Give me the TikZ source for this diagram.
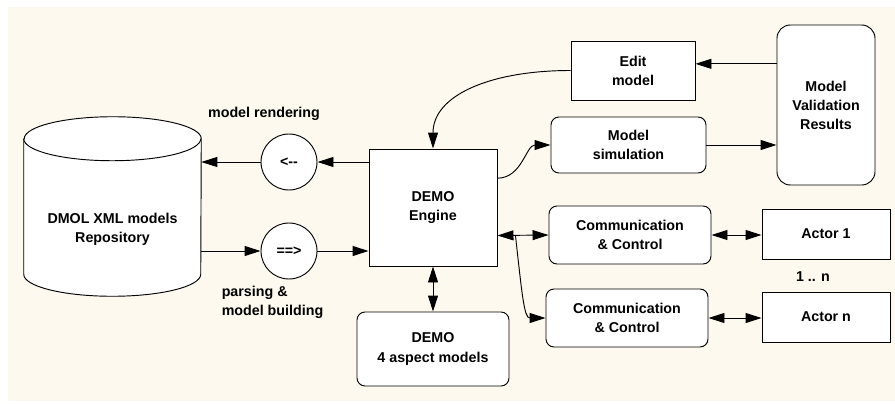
\documentclass[tikz,border=0pt]{standalone}
\usepackage{fontspec}
\setmainfont{Liberation Sans}
\usetikzlibrary{arrows.meta,positioning,calc}
\definecolor{dmolcream}{RGB}{253,249,238}

\begin{document}
\begin{tikzpicture}[x=.75pt,y=.75pt,
  font=\fontsize{10.7}{14.3}\selectfont\bfseries,
  box/.style={draw,fill=white,align=center,inner sep=2pt,line width=.7pt},
  rbox/.style={box,rounded corners=6pt},
  op/.style={draw,fill=white,circle,minimum size=42pt,inner sep=0pt,line width=.7pt},
  annot/.style={align=left,inner sep=0pt},
  flow/.style={-{Triangle[length=12pt,width=7.5pt]},line width=.7pt},
  twoway/.style={{Triangle[length=12pt,width=7.5pt]}-{Triangle[length=12pt,width=7.5pt]},line width=.7pt}]

\path[use as bounding box] (0,0) rectangle (895,-403);
\fill[dmolcream] (8,-7) rectangle (895,-401);

% repository cylinder
\node[minimum width=132.75pt,minimum height=134.25pt,inner sep=0pt] (repo) at (112.5,-206.5) {};
\draw[fill=white,line width=.7pt] ($(repo.north west)+(0,-22)$) -- ($(repo.south west)+(0,22)$)
  arc[start angle=180,end angle=360,x radius=66.375pt,y radius=16.5pt]
  -- ($(repo.north east)+(0,-22)$)
  arc[start angle=0,end angle=180,x radius=66.375pt,y radius=16.5pt] -- cycle;
\draw[line width=.7pt] ($(repo.north west)+(0,-22)$)
  arc[start angle=180,end angle=360,x radius=66.375pt,y radius=16.5pt];
\node[align=center] (repotext) at (112.5,-229.5) {DMOL XML models\\Repository};

\node[op] (render) at (289,-162) {<-\kern0pt-};
\node[op] (parse) at (289,-251) {==>};
\node[annot] (rendertext) at (264,-114) {model rendering};
\node[annot] (parsetext) at (272.5,-302.5) {parsing \&\\model building};

\node[box,minimum width=96pt,minimum height=87.75pt] (engine) at (433,-207.5) {DEMO\\Engine};
\node[rbox,minimum width=114pt,minimum height=55.5pt] (aspect) at (433,-349) {DEMO\\4 aspect models};
\node[box,minimum width=93pt,minimum height=44.25pt] (edit) at (633,-70.5) {Edit\\model};
\node[rbox,minimum width=116.25pt,minimum height=42pt] (sim) at (628.5,-145) {Model\\simulation};
\node[box,rounded corners=10pt,minimum width=73.5pt,minimum height=120pt] (valid) at (826,-105) {Model\\Validation\\Results};
\node[rbox,minimum width=121.5pt,minimum height=43.5pt] (comm1) at (630,-235) {Communication\\\& Control};
\node[rbox,minimum width=121.5pt,minimum height=43.5pt] (comm2) at (627,-318) {Communication\\\& Control};
\node[box,minimum width=96pt,minimum height=37.5pt] (actor1) at (826,-234) {Actor 1};
\node[box,minimum width=96pt,minimum height=37.5pt] (actorn) at (826,-317) {Actor n};
\node[annot] (multi) at (813,-277) {1 .. n};

% connectors
\draw[flow] (render.east -| engine.west) -- (render.east);
\draw[flow] (render.west) -- (render.west -| repo.east);
\draw[flow] (parse.west -| repo.east) -- (parse.west);
\draw[flow] (parse.east) -- (parse.east -| engine.west);
\draw[twoway] (engine.south) -- (aspect.north);
\draw[flow] (edit.west) .. controls +(-60pt,0) and +(0,40pt) .. (engine.north);
\coordinate (vin) at ([yshift=5pt]edit.east);
\draw[flow] (vin -| valid.west) -- (vin);
\draw[flow] ([yshift=22pt]engine.east) to[out=0,in=180] (sim.west);
\draw[flow] (sim.east) -- (sim.east -| valid.west);
\draw[twoway] ([yshift=-21pt]engine.east) -- (comm1.west);
\coordinate (split) at ($(engine.east)+(13.5pt,-21pt)$);
\draw[flow] (split) .. controls +(5pt,-45pt) and +(-16pt,0) .. (comm2.west);
\draw[twoway] (comm1.east) -- (comm1.east -| actor1.west);
\draw[twoway] (comm2.east) -- (comm2.east -| actorn.west);

\end{tikzpicture}
\end{document}
